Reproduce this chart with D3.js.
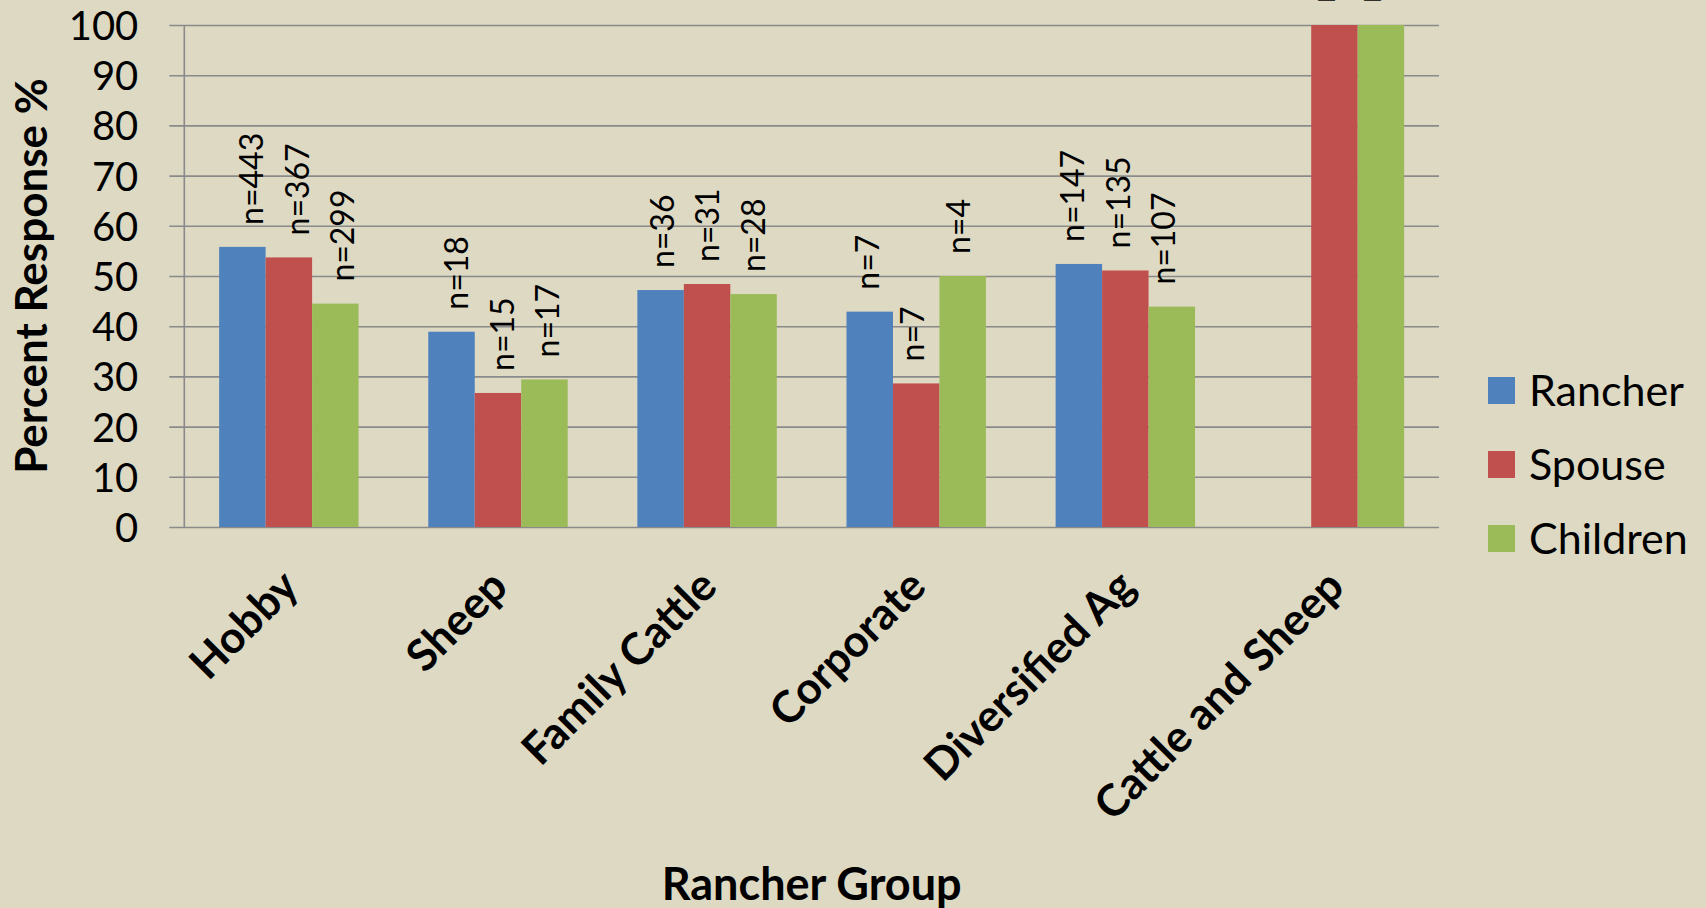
<!DOCTYPE html>
<html>
<head>
<meta charset="utf-8">
<script src="https://cdn.jsdelivr.net/npm/d3@7"></script>
<style>
  html, body { margin: 0; padding: 0; background: #DDD9C3; }
  svg { display: block; }
  text { font-family: Lato, "Open Sans", sans-serif; fill: #000; }
</style>
</head>
<body>
<svg id="chart" width="1706" height="908"></svg>
<script>
// ---------- data ----------
const categories = ["Hobby", "Sheep", "Family Cattle", "Corporate", "Diversified Ag", "Cattle and Sheep"];
const seriesNames = ["Rancher", "Spouse", "Children"];
const seriesColors = ["#4F81BD", "#C0504D", "#9BBB59"];
const rancherPct  = [55.8, 38.9, 47.2, 42.9, 52.4, null];
const spousePct   = [53.7, 26.7, 48.4, 28.6, 51.1, 100];
const childrenPct = [44.5, 29.4, 46.4, 50.0, 43.9, 100];
const rancherN  = [443, 18, 36, 7, 147, null];
const spouseN   = [367, 15, 31, 7, 135, 1];
const childrenN = [299, 17, 28, 4, 107, 1];
const yTicks = [0, 10, 20, 30, 40, 50, 60, 70, 80, 90, 100];
const yTitle = "Percent Response %";
const xTitle = "Rancher Group";

// ---------- layout ----------
const W = 1706, H = 908;
const plotLeft = 184.3, plotRight = 1439, plotTop = 25, plotBottom = 527;

const svg = d3.select("#chart");
svg.append("rect").attr("width", W).attr("height", H).attr("fill", "#DDD9C3");

const x0 = d3.scaleBand().domain(categories).range([plotLeft, plotRight])
  .paddingInner(1 / 3).paddingOuter(1 / 6);
const x1 = d3.scaleBand().domain(seriesNames).range([0, x0.bandwidth()]).padding(0);
const y = d3.scaleLinear().domain([0, 100]).range([plotBottom, plotTop]);
const color = d3.scaleOrdinal().domain(seriesNames).range(seriesColors);

const pctBySeries = { Rancher: rancherPct, Spouse: spousePct, Children: childrenPct };
const nBySeries = { Rancher: rancherN, Spouse: spouseN, Children: childrenN };

const rows = [];
categories.forEach((c, i) => {
  seriesNames.forEach(s => {
    const v = pctBySeries[s][i];
    if (v !== null) rows.push({ cat: c, series: s, value: v, n: nBySeries[s][i] });
  });
});

// ---------- y axis with gridlines ----------
const gAxis = svg.append("g").attr("transform", `translate(${plotLeft},0)`)
  .call(d3.axisLeft(y).tickValues(yTicks).tickSizeInner(-(plotRight - plotLeft)).tickSizeOuter(0).tickPadding(46));
gAxis.select(".domain").remove();
gAxis.selectAll(".tick line").attr("x1", -15).attr("stroke", "#8A8A8A").attr("stroke-width", 1.6);
gAxis.selectAll(".tick text")
  .style("font-family", "Lato, sans-serif").style("font-size", "40px").attr("fill", "#000").attr("dy", "0.36em");

// vertical axis line
svg.append("line").attr("x1", plotLeft).attr("x2", plotLeft).attr("y1", y(100)).attr("y2", y(0))
  .attr("stroke", "#8A8A8A").attr("stroke-width", 1.6);

// ---------- bars ----------
svg.append("g").selectAll("rect").data(rows).join("rect")
  .attr("x", d => x0(d.cat) + x1(d.series))
  .attr("y", d => y(d.value))
  .attr("width", x1.bandwidth())
  .attr("height", d => y(0) - y(d.value))
  .attr("fill", d => color(d.series));

// ---------- n labels ----------
svg.append("g").selectAll("text").data(rows).join("text")
  .attr("transform", d => {
    const cx = x0(d.cat) + x1(d.series) + x1.bandwidth() / 2;
    const lx = cx + 9 - 0.0183 * (cx - 243);
    return `translate(${lx},${y(d.value) - 22}) rotate(-90)`;
  })
  .attr("dy", "0.36em")
  .attr("text-anchor", "start")
  .style("font-size", "32px")
  .text(d => "n=" + d.n);

// ---------- x category labels ----------
svg.append("g").selectAll("text").data(categories).join("text")
  .attr("transform", d => `translate(${x0(d) + x0.bandwidth() / 2 + 12},${plotBottom + 62}) rotate(-45)`)
  .attr("text-anchor", "end")
  .style("font-size", "44px").style("font-weight", "bold")
  .text(d => d);

// ---------- axis titles ----------
svg.append("text")
  .attr("transform", `translate(47,${(plotTop + plotBottom) / 2}) rotate(-90)`)
  .attr("text-anchor", "middle")
  .style("font-size", "44px").style("font-weight", "bold")
  .text(yTitle);

svg.append("text")
  .attr("x", (plotLeft + plotRight) / 2).attr("y", 900)
  .attr("text-anchor", "middle")
  .style("font-size", "45px").style("font-weight", "bold")
  .text(xTitle);

// ---------- legend ----------
const legend = svg.append("g").selectAll("g").data(seriesNames).join("g")
  .attr("transform", (d, i) => `translate(1488,${377 + i * 74})`);
legend.append("rect").attr("width", 27).attr("height", 27).attr("fill", d => color(d));
legend.append("text").attr("x", 41).attr("y", 13.5).attr("dy", "0.36em")
  .style("font-size", "43px").text(d => d);
</script>
</body>
</html>
